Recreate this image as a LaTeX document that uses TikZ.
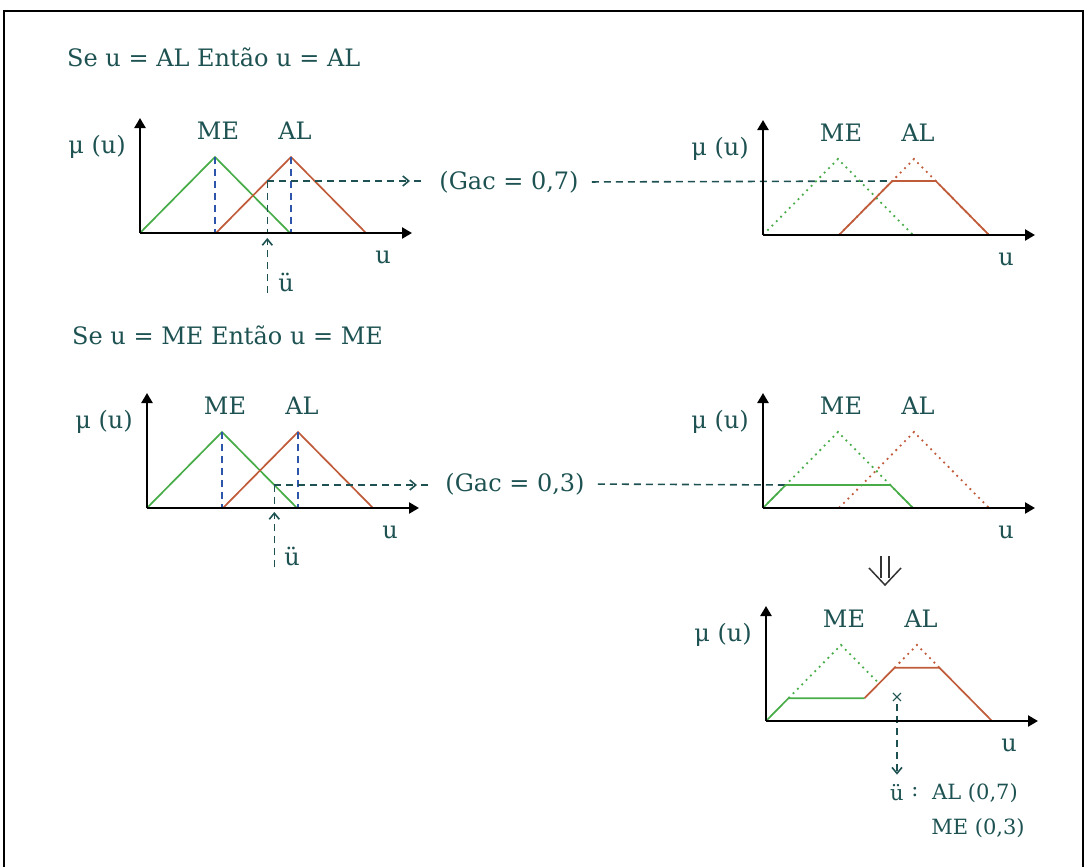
\documentclass[tikz,border=0pt]{standalone}
\usepackage{fontspec}
\setmainfont{DejaVu Serif}
\usetikzlibrary{positioning, arrows.meta}

\definecolor{txtteal}{RGB}{30,82,82}
\definecolor{megreen}{RGB}{72,172,72}
\definecolor{alred}{RGB}{192,92,58}
\definecolor{peakblue}{RGB}{45,85,170}

\begin{document}
\begin{tikzpicture}[
    x=1pt,
    y=-1pt,
    >={Straight Barb[length=6pt,width=10pt]},
    every node/.style={text=txtteal, inner sep=1pt, font=\fontsize{24}{28}\selectfont},
    small/.style={font=\fontsize{21}{25}\selectfont},
    axis/.style={line width=2.4pt, -{Triangle[length=10pt,width=11pt]}},
    mfme/.style={line width=1.7pt, megreen},
    mfal/.style={line width=1.7pt, alred},
    dotme/.style={line width=1.8pt, megreen, dash pattern=on 1.8pt off 4.4pt},
    dotal/.style={line width=1.8pt, alred, dash pattern=on 1.8pt off 4.4pt},
    guide/.style={line width=1.6pt, txtteal, dash pattern=on 7pt off 5pt},
    peakline/.style={line width=1.6pt, peakblue, dash pattern=on 7pt off 5pt}
]

\useasboundingbox (0,0) rectangle (1088,867);

% Frame
\draw[line width=2.4pt] (4,867) -- (4,11) -- (1083,11) -- (1083,867);

% =================================================
% REGRA 1: SE u = AL ENTAO u = AL
% =================================================

\node[
    anchor=west
] (titleA) at (66,57)
{Se u = AL Então u = AL};

% Input sets
\draw[mfme] (140,233) -- (215,157) -- (290,233);
\draw[mfal] (216,233) -- (291,157) -- (366,233);
\draw[peakline] (215,157) -- (215,233);
\draw[peakline] (291,157) -- (291,233);

% Crisp input
\coordinate (ubarA) at (267.3,181);
\coordinate (ubarAlow) at (267.3,293);
\draw[guide] (ubarA) -- (267.3,233);
\draw[guide, ->] (ubarAlow) -- (267.3,238);
\node (uA) at (286,282) {ü};

% Firing degree
\node (gacA) at (509,182) {(Gac = 0,7)};
\draw[guide, ->] (ubarA) -- (410,181);
\draw[guide] (414,181) -- (425,181);
\draw[guide, shorten <=12pt] (gacA.east) -- (892.3,181);

% Output sets
\draw[dotme] (763,235) -- (838,159) -- (913,235);
\draw[dotal] (839,235) -- (914,159) -- (989,235);
\draw[mfal] (839,235) -- (892.3,181) -- (935.8,181) -- (989,235);

% =================================================
% REGRA 2: SE u = ME ENTAO u = ME
% =================================================

\node[
    anchor=west
] (titleB) at (71,335)
{Se u = ME Então u = ME};

% Input sets
\draw[mfme] (147,508) -- (222,432) -- (297,508);
\draw[mfal] (223,508) -- (298,432) -- (373,508);
\draw[peakline] (222,432) -- (222,508);
\draw[peakline] (298,432) -- (298,508);

% Crisp input
\coordinate (ubarB) at (274.3,485);
\coordinate (ubarBlow) at (274.3,567);
\draw[guide] (ubarB) -- (274.3,508);
\draw[guide, ->] (ubarBlow) -- (274.3,512);
\node (uB) at (292,556) {ü};

% Firing degree
\node (gacB) at (515,484) {(Gac = 0,3)};
\draw[guide, ->] (ubarB) -- (417,485);
\draw[guide] (421,485) -- (431,485);
\draw[guide, shorten <=12pt] (gacB.east) -- (785.7,485);

% Output sets
\draw[dotme] (763,508) -- (838,432) -- (913,508);
\draw[dotal] (839,508) -- (914,432) -- (989,508);
\draw[mfme] (763,508) -- (785.7,485) -- (890.3,485) -- (913,508);

% Double arrow
\draw[line width=1.5pt, black!80] (881,556) -- (881,578);
\draw[line width=1.5pt, black!80] (889,556) -- (889,578);
\draw[line width=1.5pt, black!80] (869,568) -- (885,585) -- (901,568);

% =================================================
% AGREGACAO
% =================================================

\draw[dotme] (788.5,698.2) -- (841,645) -- (879,683.5);
\draw[dotal] (894.5,667.8) -- (917,645) -- (939.5,667.8);
\draw[mfme] (766,721) -- (788.5,698.2) -- (864.5,698.2);
\draw[mfal] (864.5,698.2) -- (894.5,667.8) -- (939.5,667.8) -- (992,721);

% Defuzzified value
\node[
    font=\fontsize{16}{18}\selectfont
] (cross) at (897,698) {×};

\node[small] (uE) at (897,793) {ü};
\node[small] (colonE) at (915,792) {:};
\node[small] (alE) at (975,793) {AL (0,7)};
\node[small] (meE) at (978,828) {ME (0,3)};

\draw[guide, ->, shorten >=9pt] (cross.south) -- (uE.north);

% =================================================
% EIXOS
% =================================================

\foreach \ox/\oy/\n in {
    140/233/a,
    763/235/b,
    147/508/c,
    763/508/d,
    766/721/e
}{
    \draw[axis] (\ox,\oy) -- (\ox,\oy-115);
    \draw[axis] (\ox,\oy) -- (\ox+272,\oy);

    \node (me\n) at (\ox+78,\oy-102) {ME};
    \node (al\n) at (\ox+155,\oy-102) {AL};
    \node (mu\n) at (\ox-43,\oy-86) {μ (u)};
    \node (u\n) at (\ox+243,\oy+24) {u};
}

\end{tikzpicture}
\end{document}
